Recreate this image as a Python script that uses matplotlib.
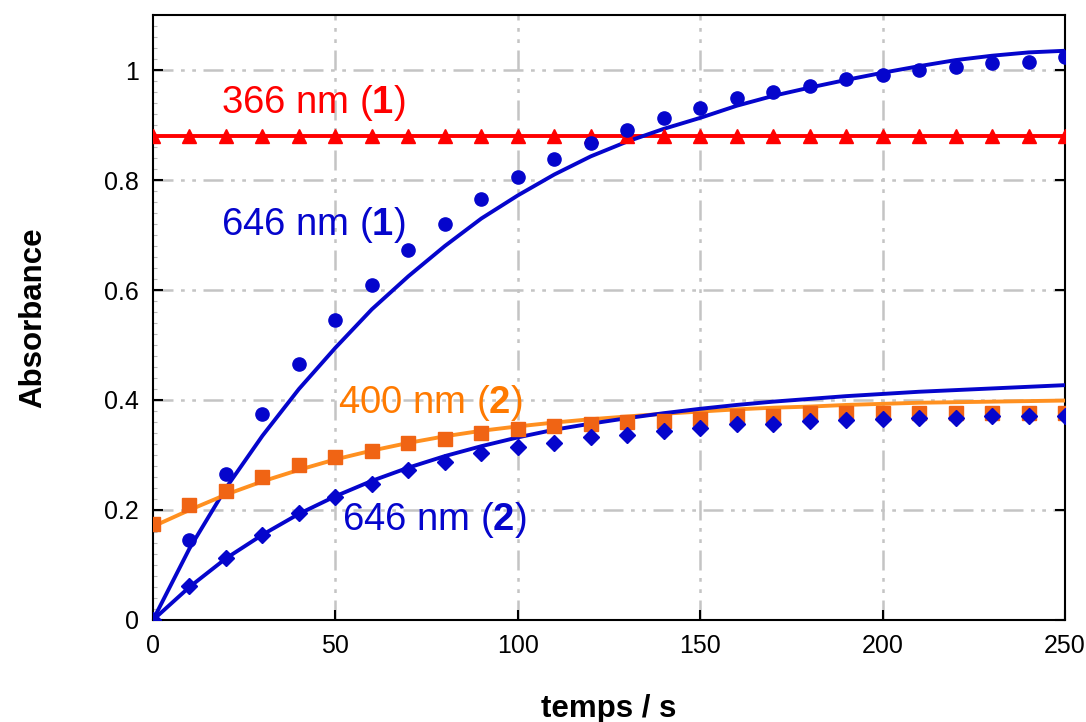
import numpy as np
import matplotlib
matplotlib.use('Agg')
import matplotlib.pyplot as plt
from matplotlib.ticker import MultipleLocator

plt.rcParams['font.family'] = ['Liberation Sans', 'DejaVu Sans']
plt.rcParams['mathtext.fontset'] = 'custom'
plt.rcParams['mathtext.bf'] = 'Liberation Sans:bold'
plt.rcParams['mathtext.rm'] = 'Liberation Sans'

# measured points (every 10 s)
t_pts = np.arange(0, 251, 10)
t_no0 = t_pts[1:]

abs_366 = [0.88] * 26
abs_646_1 = [0.145, 0.265, 0.375, 0.465, 0.545, 0.61, 0.672, 0.72, 0.765, 0.805,
             0.838, 0.868, 0.891, 0.913, 0.931, 0.949, 0.96, 0.971, 0.984, 0.991,
             1.0, 1.005, 1.012, 1.015, 1.024]
abs_400_2 = [0.174, 0.209, 0.235, 0.26, 0.282, 0.297, 0.307, 0.322, 0.329, 0.34,
             0.348, 0.352, 0.356, 0.36, 0.362, 0.365, 0.37, 0.371, 0.376, 0.376,
             0.377, 0.377, 0.377, 0.377, 0.377, 0.377]
abs_646_2 = [0.0, 0.062, 0.112, 0.155, 0.194, 0.224, 0.248, 0.273, 0.287, 0.303,
             0.315, 0.322, 0.332, 0.336, 0.344, 0.349, 0.356, 0.356, 0.361, 0.364,
             0.365, 0.367, 0.368, 0.371, 0.371, 0.371]

# fitted curves (read every 10 s)
fit_366 = [0.88] * 26
fit_646_1 = [0.0, 0.13, 0.24, 0.335, 0.42, 0.495, 0.565, 0.625, 0.68, 0.73,
             0.772, 0.81, 0.843, 0.87, 0.893, 0.913, 0.935, 0.953, 0.968, 0.982,
             0.995, 1.007, 1.018, 1.026, 1.032, 1.035]
fit_400_2 = [0.17, 0.20, 0.228, 0.252, 0.273, 0.292, 0.308, 0.322, 0.334, 0.344,
             0.352, 0.359, 0.365, 0.37, 0.375, 0.379, 0.383, 0.386, 0.388, 0.391,
             0.393, 0.395, 0.396, 0.397, 0.398, 0.399]
fit_646_2 = [0.0, 0.06, 0.112, 0.155, 0.193, 0.225, 0.253, 0.277, 0.298, 0.316,
             0.332, 0.346, 0.357, 0.367, 0.376, 0.384, 0.391, 0.397, 0.402, 0.407,
             0.411, 0.415, 0.418, 0.421, 0.424, 0.427]

blue = '#0505cc'
red = '#ff0000'
orange_line = '#ff9020'
orange_pts = '#f06414'
orange_txt = '#ff7a00'

fig = plt.figure(figsize=(10.86, 7.22), dpi=100)
ax = fig.add_axes([0.1409, 0.1413, 0.9807 - 0.1409, 0.9792 - 0.1413])

grid_ls = (0, (8, 3, 1.5, 3, 1.5, 3))
for gx in [50, 100, 150, 200]:
    ax.axvline(gx, color='#c4c4c4', lw=1.8, ls=grid_ls, zorder=0)
for gy in [0.2, 0.4, 0.6, 0.8, 1.0]:
    ax.axhline(gy, color='#c4c4c4', lw=1.8, ls=grid_ls, zorder=0)

ax.plot(t_pts, fit_366, color=red, lw=2.8, zorder=3)
ax.plot(t_pts, abs_366, ls='none', marker='^', ms=10, color=red, zorder=4)

ax.plot(t_pts, fit_646_1, color=blue, lw=2.8, zorder=3)
ax.plot(t_no0, abs_646_1, ls='none', marker='o', ms=9.5, color=blue, zorder=4)

ax.plot(t_pts, fit_400_2, color=orange_line, lw=2.8, zorder=3)
ax.plot(t_pts, abs_400_2, ls='none', marker='s', ms=10.5, color=orange_pts, zorder=4)

ax.plot(t_pts, fit_646_2, color=blue, lw=2.8, zorder=3)
ax.plot(t_pts, abs_646_2, ls='none', marker='D', ms=8, color=blue, zorder=5)

lab_fs = 27.5
ax.text(44, 0.94, r'366 nm ($\mathbf{1}$)', color=red, fontsize=lab_fs, ha='center', va='center')
ax.text(44, 0.718, r'646 nm ($\mathbf{1}$)', color=blue, fontsize=lab_fs, ha='center', va='center')
ax.text(76, 0.395, r'400 nm ($\mathbf{2}$)', color=orange_txt, fontsize=lab_fs, ha='center', va='center')
ax.text(77, 0.182, r'646 nm ($\mathbf{2}$)', color=blue, fontsize=lab_fs, ha='center', va='center')

ax.set_xlim(0, 250)
ax.set_ylim(0, 1.1)
ax.set_xticks([0, 50, 100, 150, 200, 250])
ax.set_yticks([0, 0.2, 0.4, 0.6, 0.8, 1.0])
ax.set_yticklabels(['0', '0.2', '0.4', '0.6', '0.8', '1'])
ax.yaxis.set_minor_locator(MultipleLocator(0.02))
ax.tick_params(axis='both', which='major', direction='in', length=7, width=1.5,
               labelsize=18, pad=10)
ax.tick_params(axis='y', which='major', right=True)
ax.tick_params(axis='y', which='minor', direction='in', length=3, width=0.8, color='#bbbbbb')
for lab in ax.get_xticklabels() + ax.get_yticklabels():
    lab.set_family(['Liberation Sans Narrow', 'Liberation Sans'])
for sp in ax.spines.values():
    sp.set_linewidth(1.5)

ax.set_xlabel('temps / s', fontsize=22.5, fontweight='bold', labelpad=26)
ax.set_ylabel('Absorbance', fontsize=22.5, fontweight='bold', labelpad=40)

fig.savefig('out.png', dpi=100)
